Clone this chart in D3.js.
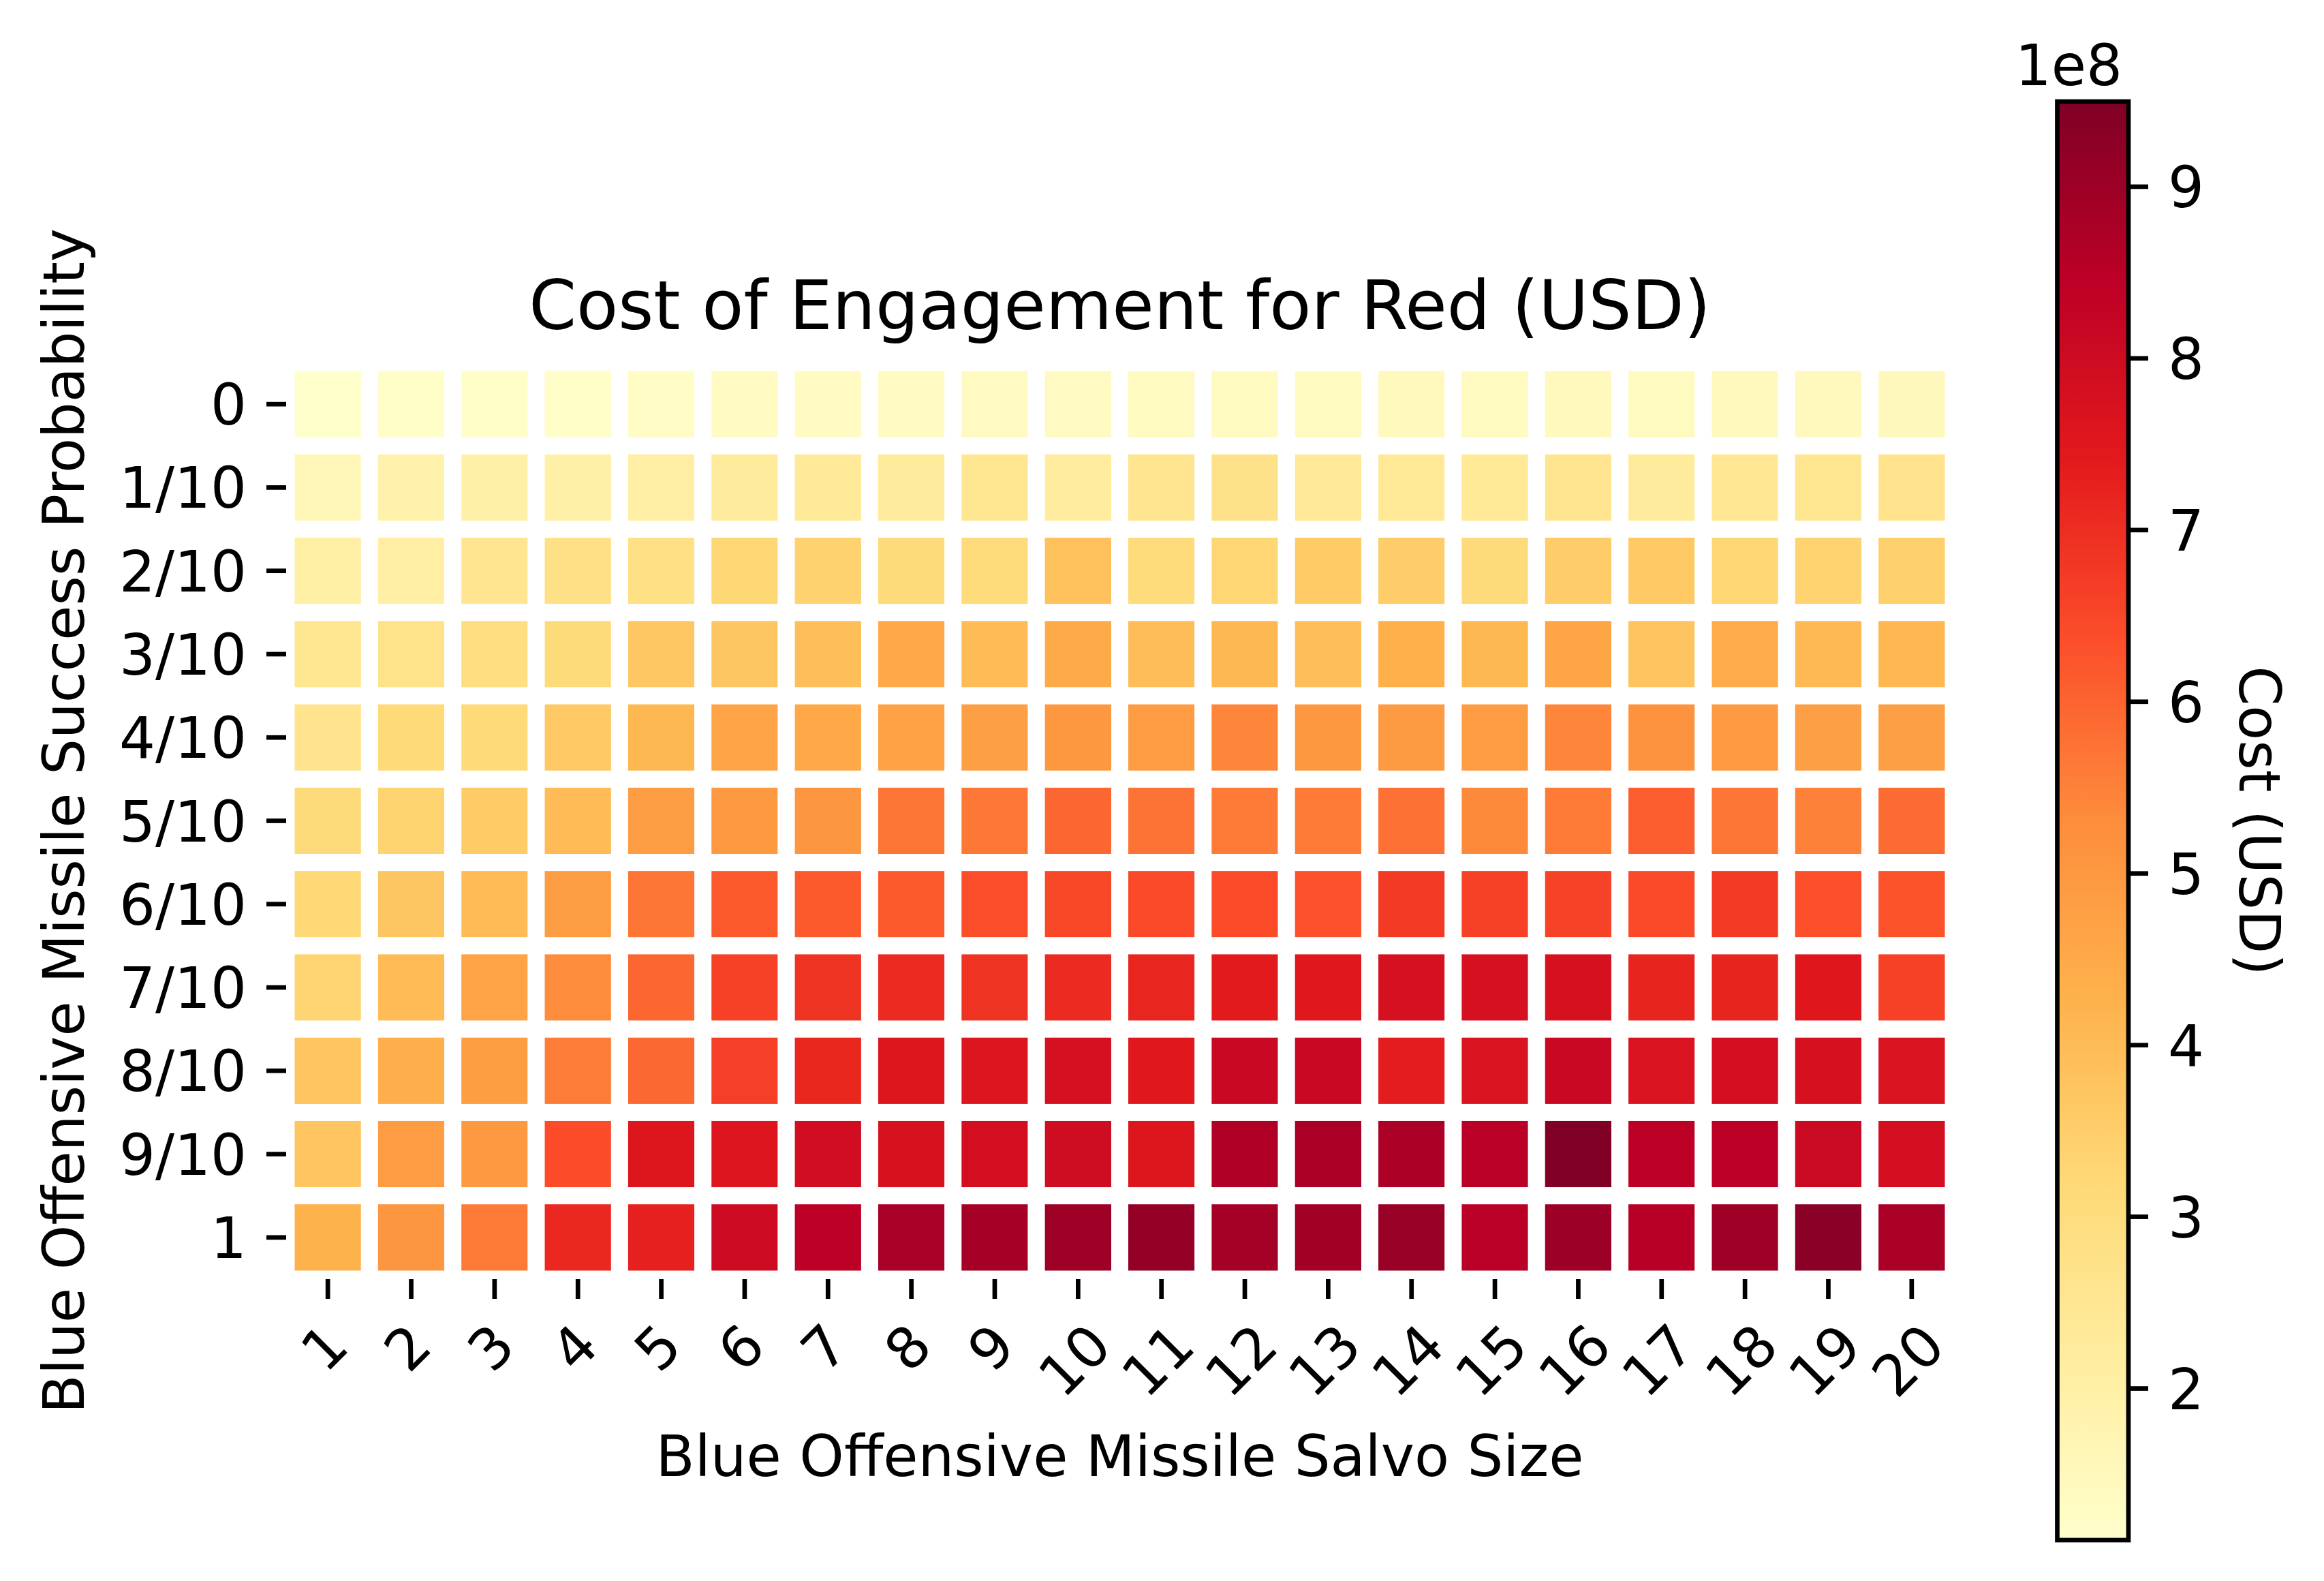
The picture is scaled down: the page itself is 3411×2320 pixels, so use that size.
<!DOCTYPE html>
<html>
<head>
<meta charset="utf-8">
<script src="https://cdn.jsdelivr.net/npm/d3@7"></script>
<style>
body{margin:0;background:#fff;}
svg{display:block;font-family:"DejaVu Sans",sans-serif;}
</style>
</head>
<body>
<script>
// categories
let salvoSizes=[1,2,3,4,5,6,7,8,9,10,11,12,13,14,15,16,17,18,19,20];
let probLabels=["0","1/10","2/10","3/10","4/10","5/10","6/10","7/10","8/10","9/10","1"];

// cost of engagement, units of 1e8 USD, one array per success probability
let cost_p00=[1.115,1.20,1.22,1.22,1.28,1.32,1.33,1.33,1.38,1.38,1.42,1.42,1.42,1.48,1.42,1.45,1.42,1.45,1.45,1.50];
let cost_p01=[1.58,1.87,1.99,1.99,2.10,2.27,2.32,2.27,2.53,2.21,2.58,2.74,2.37,2.42,2.42,2.58,2.27,2.48,2.53,2.63];
let cost_p02=[2.05,2.10,2.58,2.79,2.84,3.24,3.40,3.10,3.05,3.86,3.05,3.29,3.59,3.56,3.10,3.53,3.64,3.26,3.37,3.45];
let cost_p03=[2.53,2.69,2.95,3.10,3.69,3.72,3.91,4.54,4.01,4.48,3.96,4.10,3.94,4.29,4.10,4.63,3.77,4.46,4.07,4.12];
let cost_p04=[2.63,3.16,3.16,3.64,4.10,4.65,4.54,4.71,4.79,4.99,4.88,5.42,4.99,4.91,4.88,5.42,5.14,4.94,4.79,4.79];
let cost_p05=[3.10,3.34,3.59,4.01,4.85,4.96,5.05,5.70,5.67,5.95,5.74,5.60,5.60,5.77,5.36,5.62,6.08,5.69,5.50,5.87];
let cost_p06=[3.21,3.72,4.01,4.85,5.69,6.15,6.17,6.17,6.37,6.47,6.43,6.41,6.30,6.75,6.61,6.59,6.43,6.75,6.33,6.27];
let cost_p07=[3.31,4.01,4.65,5.32,5.93,6.61,6.90,7.06,6.90,7.06,7.18,7.40,7.48,7.79,7.79,7.75,7.20,7.20,7.51,6.61];
let cost_p08=[3.75,4.37,4.82,5.59,5.92,6.65,7.14,7.56,7.59,7.79,7.48,8.12,8.12,7.36,7.68,8.12,7.68,7.87,7.76,7.68];
let cost_p09=[3.75,4.88,4.95,6.41,7.56,7.59,7.92,7.72,7.87,7.98,7.56,8.65,8.77,8.74,8.50,9.494,8.45,8.47,8.09,7.87];
let cost_p10=[4.26,5.05,5.60,7.12,7.28,8.00,8.45,8.81,8.85,8.96,9.13,8.86,8.90,9.06,8.50,9.00,8.53,8.96,9.30,8.77];
let costRows=[cost_p00,cost_p01,cost_p02,cost_p03,cost_p04,cost_p05,cost_p06,cost_p07,cost_p08,cost_p09,cost_p10];

let cbTicks=[2,3,4,5,6,7,8,9];

// matplotlib YlOrRd anchor colours
let ylOrRd=["#ffffcc","#ffeda0","#fed976","#feb24c","#fd8d3c","#fc4e2a","#e31a1c","#bd0026","#800026"];

let W=3411,H=2320;
let fs=83.3;              // 10pt at 600 dpi
let tickLen=29,tickPad=29,tickW=6.7;

let svg=d3.select("body").append("svg").attr("width",W).attr("height",H);

let cells=[];
costRows.forEach((row,i)=>row.forEach((v,j)=>cells.push({p:probLabels[i],s:salvoSizes[j],v:v})));

let vmin=d3.min(cells,d=>d.v),vmax=d3.max(cells,d=>d.v);

let color=d3.scaleLinear()
  .domain(ylOrRd.map((c,i)=>vmin+i/(ylOrRd.length-1)*(vmax-vmin)))
  .range(ylOrRd)
  .interpolate(d3.interpolateRgb);

let x=d3.scaleBand().domain(salvoSizes).range([420,2867]);
let y=d3.scaleBand().domain(probLabels).range([532,1877]);

svg.append("g").selectAll("rect").data(cells).enter().append("rect")
  .attr("x",d=>x(d.s)).attr("y",d=>y(d.p))
  .attr("width",x.bandwidth()).attr("height",y.bandwidth())
  .attr("fill",d=>color(d.v))
  .attr("stroke","#fff").attr("stroke-width",25);

// y axis
let gy=svg.append("g").attr("transform","translate(420,0)")
  .call(d3.axisLeft(y).tickSize(tickLen).tickPadding(tickPad));
gy.select(".domain").remove();
gy.selectAll("line").attr("stroke","#000").attr("stroke-width",tickW);
gy.selectAll("text").attr("font-size",fs).attr("font-family","DejaVu Sans").attr("fill","#000").attr("dy","0.36em");

// x axis, labels rotated 45 deg like matplotlib (ha center, va top)
let gx=svg.append("g").attr("transform","translate(0,1877)")
  .call(d3.axisBottom(x).tickSize(tickLen).tickPadding(tickPad));
gx.select(".domain").remove();
gx.selectAll("line").attr("stroke","#000").attr("stroke-width",tickW);
gx.selectAll("text").attr("font-size",fs).attr("font-family","DejaVu Sans").attr("fill","#000")
  .attr("text-anchor","middle").attr("y",0).attr("dy","0.26em")
  .attr("transform",function(){
    let w=this.getComputedTextLength(),h=0.995*fs;
    let side=(w+h)/Math.SQRT2;
    return `translate(0,${tickLen+tickPad+side/2}) rotate(-45)`;
  });

svg.append("text").text("Cost of Engagement for Red (USD)")
  .attr("x",1643.5).attr("y",483).attr("text-anchor","middle").attr("font-size",100);

svg.append("text").text("Blue Offensive Missile Salvo Size")
  .attr("x",1643.5).attr("y",2166).attr("text-anchor","middle").attr("font-size",fs);

svg.append("text").text("Blue Offensive Missile Success Probability")
  .attr("transform","translate(123,1204.5) rotate(-90)").attr("text-anchor","middle").attr("font-size",fs);

// colorbar
let cbL=3019.5,cbR=3124,cbT=149,cbB=2260;
let cbY=d3.scaleLinear().domain([vmin,vmax]).range([cbB,cbT]);

let grad=svg.append("defs").append("linearGradient").attr("id","cbgrad")
  .attr("x1",0).attr("y1",1).attr("x2",0).attr("y2",0);
grad.selectAll("stop").data(ylOrRd).enter().append("stop")
  .attr("offset",(c,i)=>i/(ylOrRd.length-1)).attr("stop-color",c=>c);

svg.append("rect").attr("x",cbL).attr("y",cbT).attr("width",cbR-cbL).attr("height",cbB-cbT)
  .attr("fill","url(#cbgrad)").attr("stroke","#000").attr("stroke-width",tickW);

let gc=svg.append("g").attr("transform",`translate(${cbR},0)`)
  .call(d3.axisRight(cbY).tickValues(cbTicks).tickFormat(d3.format("d")).tickSize(tickLen).tickPadding(tickPad));
gc.select(".domain").remove();
gc.selectAll("line").attr("stroke","#000").attr("stroke-width",tickW);
gc.selectAll("text").attr("font-size",fs).attr("font-family","DejaVu Sans").attr("fill","#000").attr("dy","0.36em");

svg.append("text").text("1e8").attr("x",3115).attr("y",125).attr("text-anchor","end").attr("font-size",fs);

svg.append("text").text("Cost (USD)")
  .attr("transform","translate(3287,1204.5) rotate(90)").attr("text-anchor","middle").attr("font-size",fs);
</script>
</body>
</html>
